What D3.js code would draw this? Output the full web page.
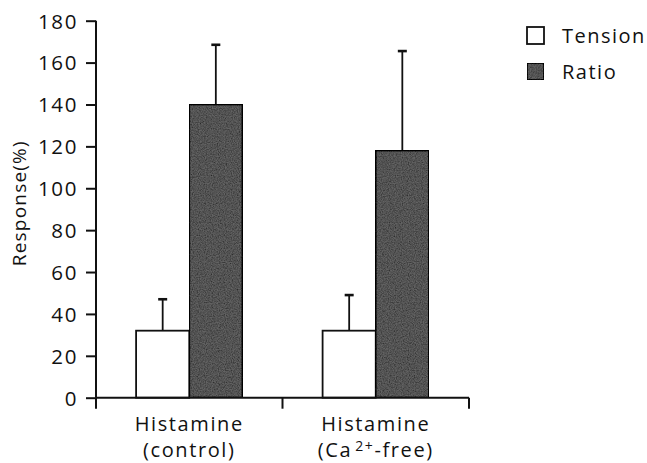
<!DOCTYPE html>
<html>
<head>
<meta charset="utf-8">
<script src="https://cdn.jsdelivr.net/npm/d3@7"></script>
<style>
  html, body { margin: 0; padding: 0; background: #fff; }
  svg { display: block; }
  text { font-family: "Open Sans", "DejaVu Sans", sans-serif; fill: #111; }
</style>
</head>
<body>
<svg id="chart" width="647" height="463"></svg>
<script>
// Categories and series
const categories = ["control", "Ca-free"];
const series = ["Tension", "Ratio"];
// Mean responses (%) per category, one array per series
const tensionValues = [32, 32];
const ratioValues = [140, 118];
// Upper error (SEM) per category
const tensionErrors = [15, 17];
const ratioErrors = [28.5, 47.5];
const yTicks = [0, 20, 40, 60, 80, 100, 120, 140, 160, 180];

const svg = d3.select("#chart");
const ink = "#111";

// Grainy gray texture for the filled bars
const defs = svg.append("defs");
const grain = defs.append("filter").attr("id", "grain")
  .attr("x", 0).attr("y", 0).attr("width", 1).attr("height", 1);
grain.append("feTurbulence").attr("type", "fractalNoise")
  .attr("baseFrequency", 0.85).attr("numOctaves", 2).attr("seed", 3).attr("result", "noise");
grain.append("feColorMatrix").attr("in", "noise").attr("type", "matrix")
  .attr("values", "0 0 0 0 0  0 0 0 0 0  0 0 0 0 0  0 0 0 1.3 -0.35")
  .attr("result", "dark");
grain.append("feComposite").attr("in", "dark").attr("in2", "SourceGraphic")
  .attr("operator", "in").attr("result", "darkIn");
grain.append("feMerge").selectAll("feMergeNode")
  .data(["SourceGraphic", "darkIn"]).join("feMergeNode").attr("in", d => d);

const y = d3.scaleLinear().domain([0, 180]).range([397.7, 20.7]);
const x = d3.scaleBand().domain(categories).range([96, 469]).padding(0);
const bw = x.bandwidth();
const barW = bw * 0.285;
const x1 = d3.scaleBand().domain(series).range([bw / 2 - barW, bw / 2 + barW]).padding(0);

const rows = categories.map((c, i) => ({
  cat: c,
  bars: [
    { s: "Tension", v: tensionValues[i], e: tensionErrors[i] },
    { s: "Ratio", v: ratioValues[i], e: ratioErrors[i] }
  ]
}));

const fills = { Tension: "#ffffff", Ratio: "#636363" };

const groups = svg.append("g").selectAll("g").data(rows).join("g")
  .attr("transform", d => `translate(${x(d.cat)},0)`);

// Error bars (drawn first so the bar outline sits on top)
groups.selectAll("g.err").data(d => d.bars).join("g").attr("class", "err")
  .each(function (d) {
    const g = d3.select(this);
    const cx = x1(d.s) + x1.bandwidth() / 2;
    g.append("line").attr("x1", cx).attr("x2", cx)
      .attr("y1", y(d.v)).attr("y2", y(d.v + d.e))
      .attr("stroke", ink).attr("stroke-width", 1.8);
    g.append("line").attr("x1", cx - 4.5).attr("x2", cx + 4.5)
      .attr("y1", y(d.v + d.e)).attr("y2", y(d.v + d.e))
      .attr("stroke", ink).attr("stroke-width", 2.6);
  });

groups.selectAll("rect").data(d => d.bars).join("rect")
  .attr("x", d => x1(d.s))
  .attr("width", x1.bandwidth())
  .attr("y", d => y(d.v))
  .attr("height", d => y(0) - y(d.v))
  .attr("fill", d => fills[d.s])
  .attr("filter", d => d.s === "Ratio" ? "url(#grain)" : null)
  .attr("stroke", ink).attr("stroke-width", 1.8);

// Y axis
const yAxis = d3.axisLeft(y).tickValues(yTicks).tickSize(10).tickPadding(8).tickFormat(d3.format("d"));
const gy = svg.append("g").attr("transform", "translate(96,0)").call(yAxis);
gy.attr("font-size", null).attr("font-family", null);
gy.select(".domain").attr("stroke", ink).attr("stroke-width", 2).attr("d", `M0,${y(180)}V${y(0)}`);
gy.selectAll(".tick line").attr("stroke", ink).attr("stroke-width", 2);
gy.selectAll(".tick text").attr("font-size", 20.5).attr("letter-spacing", 1.6)
  .attr("fill", ink).attr("dy", "0.36em");

// X axis: ticks at band edges, labels under the band centres
const gx = svg.append("g").attr("transform", `translate(0,${y(0)})`);
gx.append("line").attr("x1", x.range()[0]).attr("x2", x.range()[1])
  .attr("stroke", ink).attr("stroke-width", 2);
const edges = [x.range()[0]].concat(categories.map(c => x(c) + bw));
gx.selectAll("line.edge").data(edges).join("line").attr("class", "edge")
  .attr("x1", d => d).attr("x2", d => d).attr("y1", 0).attr("y2", 11)
  .attr("stroke", ink).attr("stroke-width", 2);

const labelG = gx.selectAll("g.lab").data(categories).join("g").attr("class", "lab")
  .attr("transform", d => `translate(${x(d) + bw / 2},0)`);
labelG.append("text").attr("text-anchor", "middle").attr("y", 33)
  .attr("font-size", 20).attr("letter-spacing", 1.6).text("Histamine");
labelG.append("text").attr("text-anchor", "middle").attr("y", 59)
  .attr("font-size", 20).attr("letter-spacing", 1.6)
  .each(function (d) {
    const t = d3.select(this);
    if (d === "control") {
      t.text("(control)");
    } else {
      t.append("tspan").text("(Ca");
      t.append("tspan").attr("font-size", 14).attr("dx", 3).attr("dy", -6).text("2+");
      t.append("tspan").attr("dy", 6).text("-free)");
    }
  });

// Y axis title
svg.append("text")
  .attr("transform", `translate(26,${(y(0) + y(180)) / 2 - 6}) rotate(-90)`)
  .attr("text-anchor", "middle").attr("font-size", 19).attr("letter-spacing", 1.2)
  .text("Response(%)");

// Legend
const legend = svg.append("g").attr("transform", "translate(527,27)");
const li = legend.selectAll("g").data(series).join("g")
  .attr("transform", (d, i) => `translate(0,${i * 36})`);
li.append("rect").attr("width", 17).attr("height", 17)
  .attr("fill", d => fills[d]).attr("filter", d => d === "Ratio" ? "url(#grain)" : null)
  .attr("stroke", ink).attr("stroke-width", 1.8);
li.append("text").attr("x", 35).attr("y", 16).attr("font-size", 20)
  .attr("letter-spacing", 1.5).text(d => d);
</script>
</body>
</html>
